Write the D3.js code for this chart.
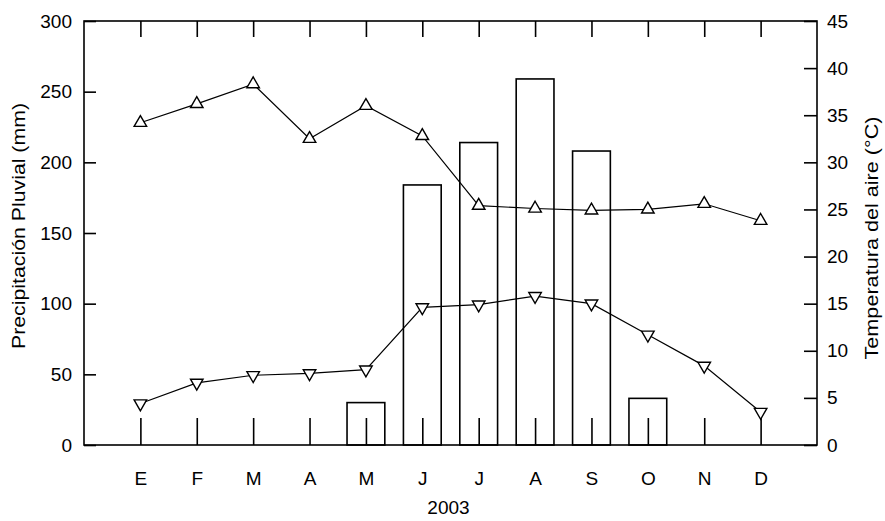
<!DOCTYPE html>
<html>
<head>
<meta charset="utf-8">
<script src="https://cdn.jsdelivr.net/npm/d3@7"></script>
<style>
  body { margin: 0; background: #fff; }
  text { font-family: Arial, "Liberation Sans", sans-serif; fill: #000; }
</style>
</head>
<body>
<div class="chart"></div>
<script>
// monthly data, 2003
let months = ["E", "F", "M", "A", "M", "J", "J", "A", "S", "O", "N", "D"];
let precip = [0, 0, 0, 0, 30, 184, 214, 259, 208, 33, 0, 0]; // mm
let tMax = [34.2, 36.2, 38.3, 32.5, 36.0, 32.8, 25.4, 25.1, 24.9, 25.0, 25.6, 23.8]; // °C
let tMin = [4.4, 6.6, 7.4, 7.6, 8.0, 14.6, 14.9, 15.8, 15.0, 11.7, 8.4, 3.5]; // °C
let precipTicks = [0, 50, 100, 150, 200, 250, 300];
let tempTicks = [0, 5, 10, 15, 20, 25, 30, 35, 40, 45];

let margin = { top: 21, right: 68, bottom: 76, left: 84 };
let width = 885 - margin.left - margin.right;
let height = 521 - margin.top - margin.bottom;

let svg = d3
  .select(".chart")
  .append("svg")
  .attr("width", width + margin.left + margin.right)
  .attr("height", height + margin.top + margin.bottom)
  .append("g")
  .attr("transform", `translate(${margin.left}, ${margin.top})`);

// scales
let xScale = d3.scalePoint().domain(d3.range(months.length)).range([0, width]).padding(1);
let yLeft = d3.scaleLinear().domain([0, 300]).range([height, 0]);
let yRight = d3.scaleLinear().domain([0, 45]).range([height, 0]);

// bars (precipitation)
let barW = xScale.step() * 0.67;
svg
  .selectAll(".bar")
  .data(precip.map((v, i) => ({ v, i })).filter((d) => d.v > 0))
  .enter()
  .append("rect")
  .attr("class", "bar")
  .attr("x", (d) => xScale(d.i) - barW / 2)
  .attr("y", (d) => yLeft(d.v))
  .attr("width", barW)
  .attr("height", (d) => height - yLeft(d.v))
  .style("fill", "none")
  .style("stroke", "#000")
  .style("stroke-width", 1.6);

// axes
let fontSize = "19px";

let xAxis = d3
  .axisBottom(xScale)
  .tickSize(-27)
  .tickSizeOuter(0)
  .tickPadding(27)
  .tickFormat((i) => months[i]);
let gx = svg.append("g").attr("transform", `translate(0, ${height})`).call(xAxis);

let gxTop = svg.append("g").call(d3.axisTop(xScale).tickSize(-16).tickSizeOuter(0).tickFormat(""));

let gyl = svg.append("g").call(d3.axisLeft(yLeft).tickValues(precipTicks).tickSize(-12).tickSizeOuter(0).tickPadding(12));

let gyr = svg
  .append("g")
  .attr("transform", `translate(${width}, 0)`)
  .call(d3.axisRight(yRight).tickValues(tempTicks).tickSize(-13).tickSizeOuter(0).tickPadding(10));

[gx, gxTop, gyl, gyr].forEach((g) => {
  g.select(".domain").remove();
  g.selectAll("line").style("stroke", "#000").style("stroke-width", 1.6);
  g.selectAll("text").style("font-size", fontSize).style("font-family", "Arial, 'Liberation Sans', sans-serif").attr("fill", "#000");
});

// frame
svg
  .append("rect")
  .attr("width", width)
  .attr("height", height)
  .style("fill", "none")
  .style("stroke", "#000")
  .style("stroke-width", 1.6);

// temperature lines
let line = d3
  .line()
  .x((d, i) => xScale(i))
  .y((d) => yRight(d));

[tMax, tMin].forEach((series) => {
  svg
    .append("path")
    .datum(series)
    .attr("d", line)
    .style("fill", "none")
    .style("stroke", "#000")
    .style("stroke-width", 1.2);
});

let tri = d3.symbol().type(d3.symbolTriangle).size(68);

svg
  .selectAll(".up")
  .data(tMax)
  .enter()
  .append("path")
  .attr("class", "up")
  .attr("d", tri)
  .attr("transform", (d, i) => `translate(${xScale(i)}, ${yRight(d)})`)
  .style("fill", "#fff")
  .style("stroke", "#000")
  .style("stroke-width", 1.4);

svg
  .selectAll(".down")
  .data(tMin)
  .enter()
  .append("path")
  .attr("class", "down")
  .attr("d", tri)
  .attr("transform", (d, i) => `translate(${xScale(i)}, ${yRight(d)}) rotate(180)`)
  .style("fill", "#fff")
  .style("stroke", "#000")
  .style("stroke-width", 1.4);

// titles
svg
  .append("text")
  .attr("transform", `translate(${25 - margin.left}, ${226 - margin.top}) rotate(-90)`)
  .attr("text-anchor", "middle")
  .attr("textLength", 246)
  .attr("lengthAdjust", "spacingAndGlyphs")
  .style("font-size", "18px")
  .text("Precipitación Pluvial (mm)");

svg
  .append("text")
  .attr("transform", `translate(${878 - margin.left}, ${238 - margin.top}) rotate(-90)`)
  .attr("text-anchor", "middle")
  .attr("textLength", 243)
  .attr("lengthAdjust", "spacingAndGlyphs")
  .style("font-size", "18px")
  .text("Temperatura del aire (°C)");

svg
  .append("text")
  .attr("x", width / 2 - 2)
  .attr("y", 514 - margin.top)
  .attr("text-anchor", "middle")
  .style("font-size", fontSize)
  .text("2003");
</script>
</body>
</html>
